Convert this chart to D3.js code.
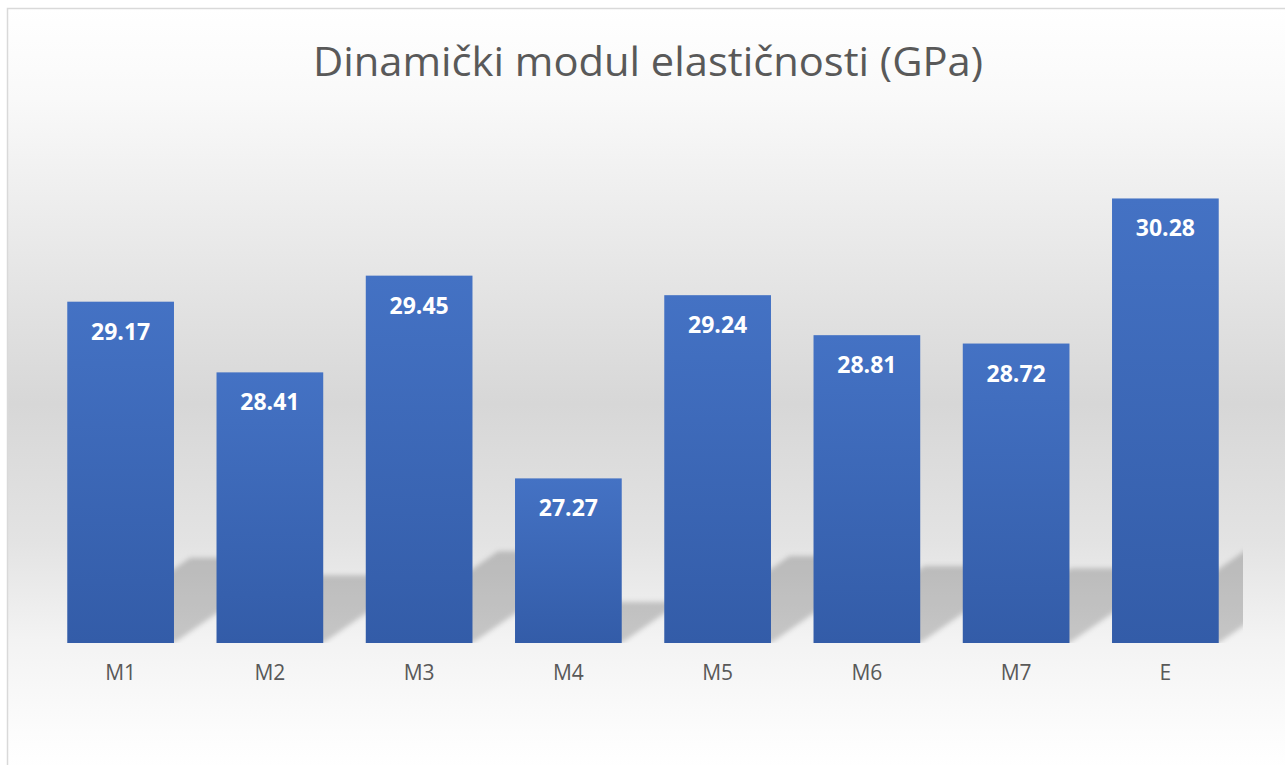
<!DOCTYPE html>
<html>
<head>
<meta charset="utf-8">
<script src="https://cdn.jsdelivr.net/npm/d3@7"></script>
<style>
  html, body { margin: 0; padding: 0; background: #ffffff; }
  svg { display: block; }
</style>
</head>
<body>
<svg id="chart" width="1285" height="765"></svg>
<script>
// ---- data ----
const categories = ["M1", "M2", "M3", "M4", "M5", "M6", "M7", "E"];
const values = [29.17, 28.41, 29.45, 27.27, 29.24, 28.81, 28.72, 30.28];
const labels = ["29.17", "28.41", "29.45", "27.27", "29.24", "28.81", "28.72", "30.28"];
const yDomain = [25.5, 30.5];
const titleText = "Dinamički modul elastičnosti (GPa)";

// ---- layout ----
const W = 1285, H = 765;
const plot = { x0: 46, x1: 1240, y0: 178, y1: 643 };
const svg = d3.select("#chart");
const defs = svg.append("defs");

// background gradient
const bg = defs.append("linearGradient").attr("id", "bgGrad")
  .attr("gradientUnits", "userSpaceOnUse")
  .attr("x1", 0).attr("y1", 8).attr("x2", 0).attr("y2", 770);
[[0, "#ffffff"], [0.12, "#f9f9f9"], [0.32, "#e8e8e8"], [0.52, "#d7d7d7"],
 [0.70, "#e3e3e3"], [0.83, "#f3f3f3"], [0.95, "#fcfcfc"], [1, "#ffffff"]]
  .forEach(([o, c]) => bg.append("stop").attr("offset", o).attr("stop-color", c));

// bar gradient
const bg2 = defs.append("linearGradient").attr("id", "barGrad")
  .attr("x1", 0).attr("y1", 0).attr("x2", 0).attr("y2", 1);
bg2.append("stop").attr("offset", 0).attr("stop-color", "#4472c4");
bg2.append("stop").attr("offset", 1).attr("stop-color", "#335ca8");

// shadow blur
defs.append("filter").attr("id", "blur")
  .attr("x", "-20%").attr("y", "-20%").attr("width", "140%").attr("height", "140%")
  .append("feGaussianBlur").attr("stdDeviation", 2.5);

defs.append("clipPath").attr("id", "plotClip")
  .append("rect").attr("x", plot.x0).attr("y", plot.y0 - 10)
  .attr("width", 1243 - plot.x0).attr("height", plot.y1 - plot.y0 + 10);

// chart area
svg.append("rect").attr("x", 7.5).attr("y", 8.5).attr("width", 1300).attr("height", 800)
  .attr("fill", "url(#bgGrad)").attr("stroke", "#d9d9d9").attr("stroke-width", 1.5);

// scales
const x = d3.scaleBand().domain(categories).range([plot.x0, plot.x1])
  .paddingInner(0.285).paddingOuter(0.1425);
const y = d3.scaleLinear().domain(yDomain).range([plot.y1, plot.y0]);

const data = categories.map((c, i) => ({ c, v: values[i], l: labels[i] }));

// perspective shadows
const shScale = 0.25, shSkew = 1.44;
svg.append("g").attr("clip-path", "url(#plotClip)")
  .append("g").attr("filter", "url(#blur)")
  .selectAll("path").data(data).join("path")
  .attr("d", d => {
    const x0 = x(d.c), x1 = x0 + x.bandwidth();
    const b = y(yDomain[0]);
    const h = (b - y(d.v)) * shScale;
    const dx = h * shSkew;
    return `M${x0},${b}L${x1},${b}L${x1 + dx},${b - h}L${x0 + dx},${b - h}Z`;
  })
  .attr("fill", "#000").attr("fill-opacity", 0.19);

// bars
svg.append("g").selectAll("rect").data(data).join("rect")
  .attr("x", d => x(d.c)).attr("width", x.bandwidth())
  .attr("y", d => y(d.v)).attr("height", d => y(yDomain[0]) - y(d.v))
  .attr("fill", "url(#barGrad)");

// data labels
svg.append("g").selectAll("text").data(data).join("text")
  .attr("x", d => x(d.c) + x.bandwidth() / 2)
  .attr("y", d => y(d.v) + 38)
  .attr("text-anchor", "middle")
  .attr("font-family", "'Open Sans', sans-serif")
  .attr("font-weight", 700).attr("font-size", 23)
  .attr("fill", "#ffffff")
  .text(d => d.l);

// category axis (no line)
const xAxis = svg.append("g").attr("transform", `translate(0,${plot.y1})`)
  .call(d3.axisBottom(x).tickSize(0).tickPadding(0));
xAxis.select(".domain").remove();
xAxis.selectAll("text")
  .attr("y", 37).attr("dy", 0)
  .attr("font-family", "'Open Sans', sans-serif")
  .attr("font-size", 21).attr("fill", "#595959");

// title
svg.append("text")
  .attr("x", 648).attr("y", 76)
  .attr("text-anchor", "middle")
  .attr("font-family", "'Open Sans', sans-serif")
  .attr("font-size", 41).attr("fill", "#595959")
  .attr("textLength", 670).attr("lengthAdjust", "spacingAndGlyphs")
  .text(titleText);
</script>
</body>
</html>
